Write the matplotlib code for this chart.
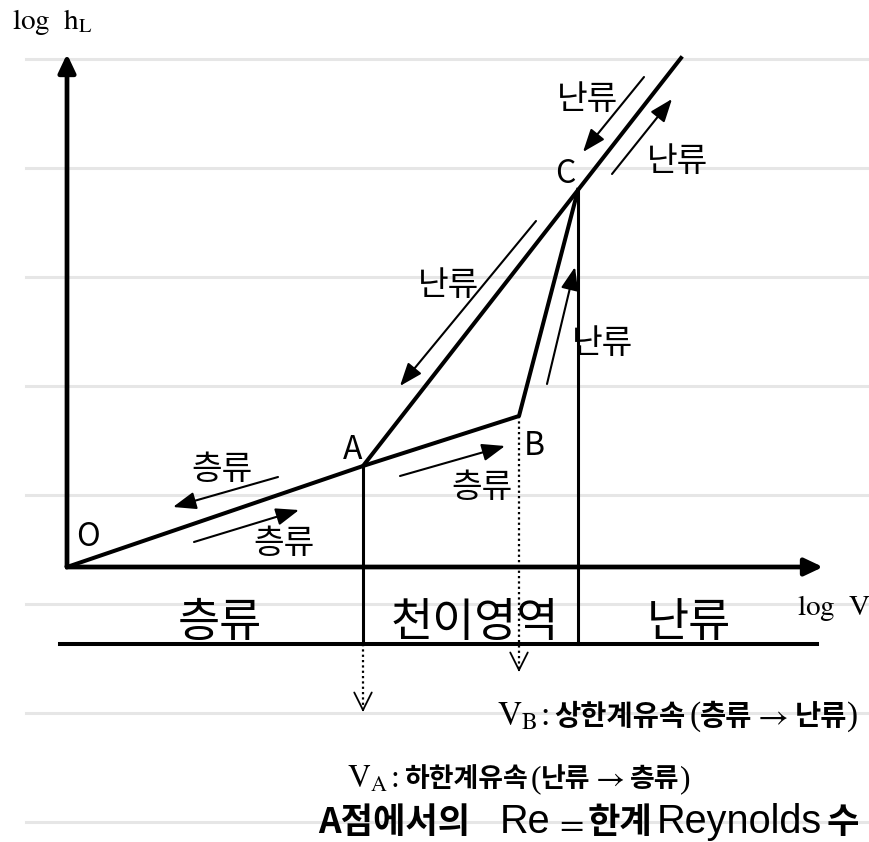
import numpy as np
import matplotlib.pyplot as plt

plt.rcParams['mathtext.fontset'] = 'stix'
KR = ['Noto Sans CJK KR', 'DejaVu Sans']
SERIF = ['Liberation Serif', 'DejaVu Serif']
SANS = ['Liberation Sans', 'DejaVu Sans']

# schematic points in (log V, log hL), origin at O
pt_names = ["O", "A", "B", "C"]
pt_v = [0, 296, 452, 511]
pt_h = [0, 101, 151, 377]
turb_end = (614, 509)        # upper end of the turbulent line A-C
axis_end = (756, 513)        # tips of the log V and log hL axes
band_y = -77                 # line under the region names
arrow_a_tip = -145           # dotted drop from A
arrow_b_tip = -105           # dotted drop from B

# small flow arrows (tail -> head) and their labels
flow_tail = [(211, 90), (127, 25), (333, 91), (469, 346), (480, 183), (577, 490), (545, 393)]
flow_head = [(106, 60), (232, 57), (438, 121), (333, 181), (508, 300), (516, 415), (605, 468)]
flow_text = ["층류", "층류", "층류", "난류", "난류", "난류", "난류"]
flow_text_pos = [(155, 98), (217, 24), (415, 79), (382, 282), (536, 223), (521, 467), (611, 406)]

label_pos = [(21, 30), (286, 117), (467, 121), (498, 393)]

region_names = ["층류", "천이영역", "난류"]
region_pos = [(153, -56), (408, -56), (622, -56)]

fig = plt.figure(figsize=(8.7, 8.42), dpi=100)
ax = fig.add_axes([0, 0, 1, 1])
ax.set_xlim(-67, 803)
ax.set_ylim(-275, 567)
ax.axis('off')

# ruled notebook lines in the background
for gy in 508 - 109 * np.arange(8):
    ax.plot([-41, 803], [gy, gy], color='#e6e6e6', lw=2.2, zorder=0)

# axes
for tip in [(0, axis_end[1]), (axis_end[0], 0)]:
    ax.annotate('', xy=tip, xytext=(0, 0),
                arrowprops=dict(arrowstyle='-|>,head_length=0.55,head_width=0.26', lw=3.4,
                                color='k', shrinkA=0, shrinkB=0, mutation_scale=20))

# laminar branch O-A-B-C and turbulent branch A-C-end
ax.plot(pt_v, pt_h, color='k', lw=2.9, zorder=3)
ax.plot([pt_v[1], pt_v[3], turb_end[0]], [pt_h[1], pt_h[3], turb_end[1]],
        color='k', lw=2.9, zorder=3)

# verticals and band line
ax.plot([pt_v[1], pt_v[1]], [pt_h[1], band_y], color='k', lw=2.2)
ax.plot([pt_v[3], pt_v[3]], [pt_h[3], band_y], color='k', lw=2.2)
ax.plot([-7, 750], [band_y, band_y], color='k', lw=2.9)

# dotted drops with open arrowheads
ax.plot([pt_v[1], pt_v[1]], [band_y, arrow_a_tip + 2], color='k', lw=1.6, ls=(0, (1, 1.4)))
ax.plot([pt_v[2], pt_v[2]], [pt_h[2], arrow_b_tip + 2], color='k', lw=1.6, ls=(0, (1, 1.4)))
for xv, tip in [(pt_v[1], arrow_a_tip), (pt_v[2], arrow_b_tip)]:
    ax.annotate('', xy=(xv, tip), xytext=(xv, tip + 3),
                arrowprops=dict(arrowstyle='->,head_length=0.9,head_width=0.45', lw=1.3,
                                color='k', shrinkA=0, shrinkB=0, mutation_scale=14))

# flow direction arrows
for t, h in zip(flow_tail, flow_head):
    ax.annotate('', xy=h, xytext=t,
                arrowprops=dict(arrowstyle='-|>,head_length=1.0,head_width=0.38', lw=1.5,
                                color='k', shrinkA=0, shrinkB=0, mutation_scale=14))
for s, (x, y) in zip(flow_text, flow_text_pos):
    ax.text(x, y, s, fontsize=24, family=KR, ha='center', va='center')

for s, (x, y) in zip(pt_names, label_pos):
    ax.text(x, y, s, fontsize=23, family=KR, ha='center', va='center')

for s, (x, y) in zip(region_names, region_pos):
    ax.text(x, y, s, fontsize=33, family=KR, ha='center', va='center')

ax.text(-55, 538, r'$\mathrm{log\ \ h_L}$', fontsize=21, va='baseline')
ax.text(730, -48, r'$\mathrm{log\ \ V}$', fontsize=21, va='baseline')

# bottom notes, drawn piece by piece and fitted to the measured width
renderer = fig.canvas.get_renderer()


def text_row(x0, x1, y, parts):
    def draw(scale):
        x, made = x0, []
        for p in parts:
            if isinstance(p, (int, float)):
                x += p * scale
                continue
            s, kw = p
            kw = dict(kw)
            kw['fontsize'] = kw['fontsize'] * scale
            t = ax.text(x, y, s, va='baseline', ha='left', **kw)
            made.append(t)
            x += t.get_window_extent(renderer).width
        return x, made
    end, made = draw(1.0)
    for t in made:
        t.remove()
    draw((x1 - x0) / (end - x0))


kb = dict(family=KR, fontsize=17, weight='bold')
sr = dict(family=SERIF, fontsize=20)
mt = dict(fontsize=20)
arrow = r'$\rightarrow$'
text_row(430, 792, -158, [(r'$\mathrm{V_B}$', mt), 2, (':', sr), 4, ('상한계유속', kb), 3,
                          ('(', sr), ('층류', kb), 0, (arrow, mt), 5, ('난류', kb), (')', sr)])
text_row(280, 624, -220, [(r'$\mathrm{V_A}$', mt), 2, (':', sr), 4, ('하한계유속', kb), 3,
                          ('(', sr), ('난류', kb), 0, (arrow, mt), 5, ('층류', kb), (')', sr)])
kb2 = dict(family=KR, fontsize=24, weight='bold')
sn = dict(family=SANS, fontsize=27)
text_row(251, 793, -266, [('A점에서의', kb2), 28, ('Re', sn), 3, (r'$=$', dict(fontsize=24)), 4,
                          ('한계', kb2), 4, ('Reynolds', sn), 5, ('수', kb2)])

fig.savefig('out.png', dpi=100)
